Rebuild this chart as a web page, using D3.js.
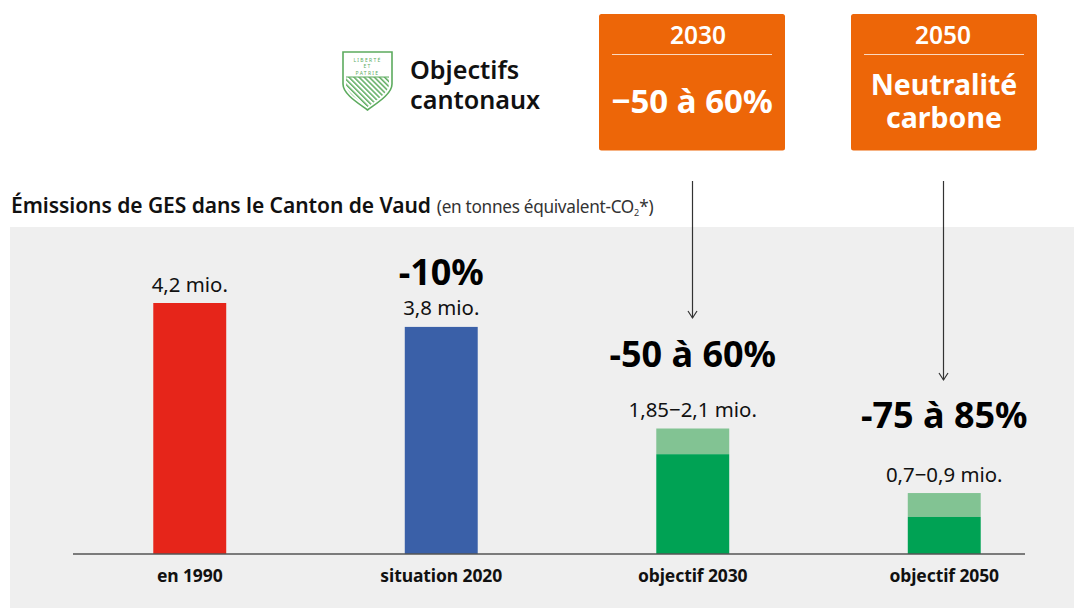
<!DOCTYPE html>
<html><head><meta charset="utf-8">
<script src="https://cdn.jsdelivr.net/npm/d3@7"></script>
<style>html,body{margin:0;padding:0;background:#fff}svg{display:block}text{font-family:"Noto Sans",sans-serif;fill:#111}</style>
</head><body><div id="c"></div>
<script>
const categories=["en 1990","situation 2020","objectif 2030","objectif 2050"];
const solidValues=[4.2,3.8,1.67,0.62];
const rangeTops=[null,null,2.1,1.02];
const valueLabels=["4,2 mio.","3,8 mio.","1,85−2,1 mio.","0,7−0,9 mio."];
const changeLabels=[null,"-10%","-50 à 60%","-75 à 85%"];
const solidColors=["#e6251a","#3a60a8","#00a254","#00a254"];
const rangeColor="#82c393";
const goals=[{year:"2030",lines:["−50 à 60%"],size:33,yearDx:6},{year:"2050",lines:["Neutralité","carbone"],size:28.5,yearDx:-1}];

const W=1074,H=608;
const svg=d3.select("#c").append("svg").attr("width",W).attr("height",H);
const x=d3.scaleBand().domain(categories).range([64,1070]).paddingInner(0.71).paddingOuter(0.355);
const y=d3.scaleLinear().domain([0,4.2]).range([554,303]);

// panel
svg.append("rect").attr("x",10).attr("y",227).attr("width",1064).attr("height",381).attr("fill","#efefef");

// title
const t=svg.append("text").attr("x",11).attr("y",212.5);
t.append("tspan").attr("font-size",21).attr("font-weight",600).attr("letter-spacing",-0.05).text("Émissions de GES dans le Canton de Vaud");
t.append("tspan").attr("font-size",17.2).attr("dx",6).attr("fill","#333").attr("letter-spacing",-0.3).text("(en tonnes équivalent-CO");
t.append("tspan").attr("font-size",9).attr("dy",3).attr("fill","#333").text("2");
t.append("tspan").attr("font-size",17.2).attr("dy",-3).attr("fill","#333").text("*)");

// shield
const sh=svg.append("g").attr("transform","translate(342,51)");
const defs=svg.append("defs");
defs.append("pattern").attr("id","hatch").attr("width",3.6).attr("height",3.6).attr("patternUnits","userSpaceOnUse").attr("patternTransform","rotate(-45)")
  .append("rect").attr("width",1.5).attr("height",3.6).attr("fill","#5cab5e");
const shieldPath="M1,1H50V33C50,43 35,52 25.5,59C16,52 1,43 1,33Z";
sh.append("path").attr("d",shieldPath).attr("fill","#fff").attr("stroke","#5cab5e").attr("stroke-width",1.6);
sh.append("path").attr("d","M4,26H47V33C47,42 33,50 25.5,56C18,50 4,42 4,33Z").attr("fill","url(#hatch)");
sh.append("line").attr("x1",4).attr("x2",47).attr("y1",26).attr("y2",26).attr("stroke","#5cab5e").attr("stroke-width",1);
[["LIBERTÉ",10.5],["ET",17],["PATRIE",23.5]].forEach(d=>sh.append("text").attr("x",25.5).attr("y",d[1]).attr("text-anchor","middle").attr("font-size",5).attr("letter-spacing",1.3).style("fill","#5cab5e").text(d[0]));

// heading
svg.append("text").attr("x",410).attr("y",79).attr("font-size",25.2).attr("font-weight",600).text("Objectifs");
svg.append("text").attr("x",410).attr("y",109).attr("font-size",25.2).attr("font-weight",600).text("cantonaux");

// goal boxes
const boxX=d3.scalePoint().domain(goals.map(d=>d.year)).range([599,851]);
const box=svg.selectAll(".box").data(goals).join("g").attr("class","box").attr("transform",d=>`translate(${boxX(d.year)},14)`);
box.append("rect").attr("width",186).attr("height",136.5).attr("rx",2.5).attr("fill","#ed6608");
box.append("line").attr("x1",13).attr("x2",173).attr("y1",40.5).attr("y2",40.5).attr("stroke","#fbd9c0").attr("stroke-width",1);
box.append("text").attr("x",d=>93+d.yearDx).attr("y",30).attr("text-anchor","middle").attr("font-size",24.5).attr("font-weight",600).style("fill","#fff").text(d=>d.year);
box.each(function(d){
  const g=d3.select(this);
  const ys=d.lines.length===1?[98.5]:[80.5,114];
  d.lines.forEach((l,i)=>g.append("text").attr("x",93).attr("y",ys[i]).attr("text-anchor","middle").attr("font-size",d.size).attr("font-weight",700).style("fill","#fff").text(l));
});

// arrows
[[692.5,181,318],[943.5,181,380]].forEach(a=>{
  svg.append("line").attr("x1",a[0]).attr("x2",a[0]).attr("y1",a[1]).attr("y2",a[2]).attr("stroke","#333").attr("stroke-width",1.2);
  svg.append("path").attr("d",`M${a[0]-4.5},${a[2]-7}L${a[0]},${a[2]}L${a[0]+4.5},${a[2]-7}`).attr("fill","none").attr("stroke","#333").attr("stroke-width",1.2);
});

// bars
svg.selectAll(".top").data(categories.filter((c,i)=>rangeTops[i]!==null)).join("rect").attr("class","top")
  .attr("x",c=>x(c)).attr("width",x.bandwidth())
  .attr("y",c=>y(rangeTops[categories.indexOf(c)]))
  .attr("height",c=>y(solidValues[categories.indexOf(c)])-y(rangeTops[categories.indexOf(c)]))
  .attr("fill",rangeColor);
svg.selectAll(".bar").data(categories).join("rect").attr("class","bar")
  .attr("x",c=>x(c)).attr("width",x.bandwidth())
  .attr("y",(c,i)=>y(solidValues[i])).attr("height",(c,i)=>y(0)-y(solidValues[i]))
  .attr("fill",(c,i)=>solidColors[i]);

// axis
svg.append("line").attr("x1",73).attr("x2",1025).attr("y1",554).attr("y2",554).attr("stroke","#555").attr("stroke-width",1.6);
const ax=svg.append("g").attr("transform","translate(0,554)").call(d3.axisBottom(x).tickSize(0).tickPadding(16));
ax.select(".domain").remove();
ax.selectAll("text").attr("font-size",17.5).attr("font-weight",700).style("font-family",'"Noto Sans",sans-serif').attr("letter-spacing",-0.1).attr("fill","#111");

// labels
const tops=categories.map((c,i)=>rangeTops[i]===null?solidValues[i]:rangeTops[i]);
svg.selectAll(".val").data(categories).join("text").attr("class","val")
  .attr("x",c=>x(c)+x.bandwidth()/2).attr("y",(c,i)=>y(tops[i])-11.5)
  .attr("text-anchor","middle").attr("font-size",20.4).attr("fill","#222").text((c,i)=>valueLabels[i]);
const offs=[0,41.5,62,65];
svg.selectAll(".chg").data(categories.filter((c,i)=>changeLabels[i])).join("text").attr("class","chg")
  .attr("x",c=>x(c)+x.bandwidth()/2).attr("y",c=>{const i=categories.indexOf(c);return y(tops[i])-offs[i];})
  .attr("text-anchor","middle").attr("font-size",36).attr("font-weight",700).style("fill","#000").text(c=>changeLabels[categories.indexOf(c)]);
</script></body></html>
